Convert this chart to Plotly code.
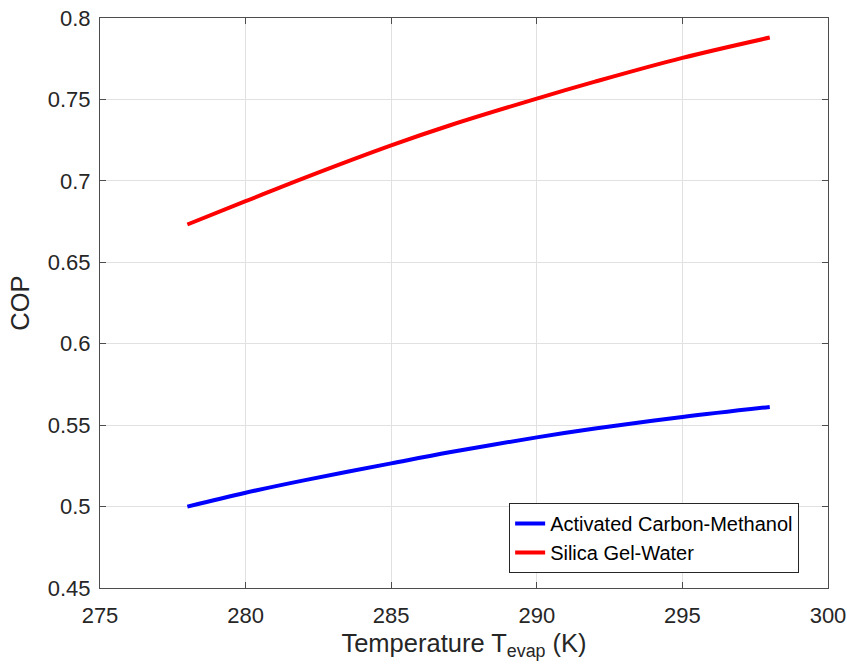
import plotly.graph_objects as go

temp = [278, 280, 282, 285, 287, 290, 292, 295, 298]
cop_carbon_methanol = [0.5000, 0.5085, 0.5161, 0.5265, 0.5333, 0.5425, 0.5479, 0.5550, 0.5612]
cop_silica_water = [0.6732, 0.6875, 0.7017, 0.7218, 0.7340, 0.7505, 0.7609, 0.7755, 0.7880]
x_ticks = [275, 280, 285, 290, 295, 300]
y_ticks = [0.45, 0.5, 0.55, 0.6, 0.65, 0.7, 0.75, 0.8]
y_tick_labels = ["0.45", "0.5", "0.55", "0.6", "0.65", "0.7", "0.75", "0.8"]

fig = go.Figure()
fig.add_trace(go.Scatter(x=temp, y=cop_carbon_methanol, mode="lines", line=dict(color="#0000ff", width=4, shape="spline"),
                         name="Activated Carbon-Methanol"))
fig.add_trace(go.Scatter(x=temp, y=cop_silica_water, mode="lines", line=dict(color="#ff0000", width=4, shape="spline"),
                         name="Silica Gel-Water"))

font = "Liberation Sans, Arial, Helvetica, sans-serif"
axis_common = dict(showline=True, linecolor="#4d4d4d", linewidth=1, mirror="ticks", ticks="inside", ticklen=6,
                   tickcolor="#4d4d4d", showgrid=True, gridcolor="#e1e1e1", gridwidth=1, zeroline=False,
                   automargin=False, ticklabeloverflow="allow",
                   tickfont=dict(family=font, size=22, color="#262626"))
fig.update_xaxes(range=[275, 300], tickvals=x_ticks, ticktext=[str(v) for v in x_ticks],
                 title=dict(text="Temperature T<sub>evap</sub> (K)", font=dict(family=font, size=25.5, color="#262626"), standoff=6),
                 ticklabelstandoff=8, **axis_common)
fig.update_yaxes(range=[0.45, 0.8], tickvals=y_ticks, ticktext=y_tick_labels,
                 title=dict(text="COP", font=dict(family=font, size=25.5, color="#262626"), standoff=10),
                 ticklabelstandoff=4, **axis_common)
fig.update_layout(width=847, height=669, margin=dict(l=100, r=19, t=18, b=81),
                  plot_bgcolor="white", paper_bgcolor="white",
                  legend=dict(x=0.562, y=0.149, xanchor="left", yanchor="top", bgcolor="white",
                              bordercolor="#262626", borderwidth=1,
                              font=dict(family=font, size=20, color="#000000"), tracegroupgap=0))
fig.write_html("out.html", config={"displayModeBar": False},
               post_script="document.body.style.margin='0px';document.body.style.overflow='hidden';")
